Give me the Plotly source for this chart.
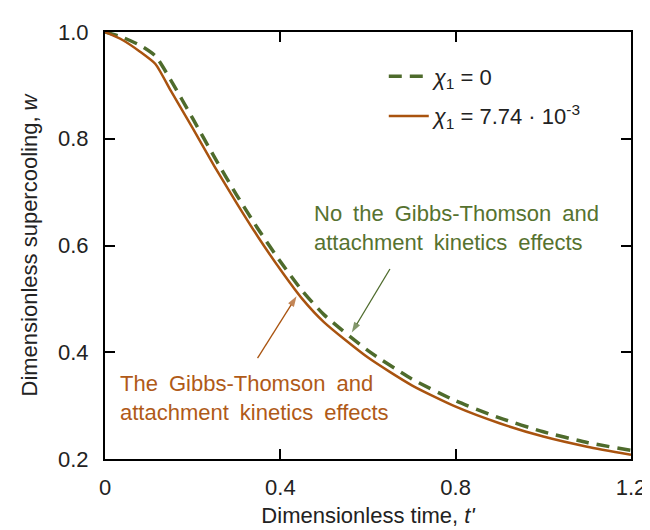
import plotly.graph_objects as go

# data
t = [0, 0.04, 0.08, 0.115, 0.15, 0.2, 0.25, 0.3, 0.35, 0.4, 0.45, 0.5, 0.6, 0.7, 0.8, 0.9, 1.0, 1.1, 1.2]
w_chi0 = [1.0, 0.99, 0.975, 0.955, 0.91, 0.838, 0.765, 0.695, 0.630, 0.570, 0.515, 0.470, 0.403, 0.350, 0.309, 0.277, 0.251, 0.231, 0.216]
w_chi1 = [1.0, 0.985, 0.963, 0.940, 0.890, 0.820, 0.748, 0.680, 0.615, 0.555, 0.500, 0.456, 0.390, 0.338, 0.298, 0.267, 0.242, 0.223, 0.208]
x_ticks = [0, 0.4, 0.8, 1.2]
x_ticklabels = ["0", "0.4", "0.8", "1.2"]
y_ticks = [0.2, 0.4, 0.6, 0.8, 1.0]
y_ticklabels = ["0.2", "0.4", "0.6", "0.8", "1.0"]
# arrow pointers (tail -> tip)
arrow_green_t = [0.650, 0.563]
arrow_green_w = [0.556, 0.437]
arrow_orange_t = [0.348, 0.437]
arrow_orange_w = [0.389, 0.505]

GREEN = "#4e6b2c"
ORANGE = "#a9530f"
GREEN_TXT = "#56722f"
ORANGE_TXT = "#b05a18"
FONT = "Liberation Sans, Arial, sans-serif"
FS = 22
SP = "\u2002"

fig = go.Figure()
fig.add_trace(go.Scatter(x=t, y=w_chi0, mode="lines", name="<i>χ</i><sub>1</sub> = 0",
                         line=dict(color=GREEN, width=3.5, dash="13px,8px", shape="spline", smoothing=0.6),
                         legendgroup="a"))
fig.add_trace(go.Scatter(x=t, y=w_chi1, mode="lines", name="<i>χ</i><sub>1</sub> = 7.74 · 10<sup>-3</sup>",
                         line=dict(color=ORANGE, width=2.5, shape="spline", smoothing=0.6), legendgroup="b"))
for ax_, ay_, col in [(arrow_green_t, arrow_green_w, GREEN), (arrow_orange_t, arrow_orange_w, ORANGE)]:
    fig.add_trace(go.Scatter(x=ax_, y=ay_, mode="lines+markers", showlegend=False, hoverinfo="skip",
                             line=dict(color=col, width=1.3),
                             marker=dict(symbol=["circle", "arrow"], size=[0, 11], color=col,
                                         angleref="previous", line=dict(width=0))))

axis_common = dict(showline=True, linecolor="black", linewidth=2, mirror="ticks",
                   ticks="inside", ticklen=10, tickwidth=1.5, tickcolor="black",
                   showgrid=False, zeroline=False, ticklabeloverflow="allow",
                   tickfont=dict(size=FS, color="#222", family=FONT))

fig.update_xaxes(range=[0, 1.2], tickvals=x_ticks, ticktext=x_ticklabels, ticklabelstandoff=8,
                 title=dict(text="Dimensionless time, <i>t'</i>", font=dict(size=FS, color="#222", family=FONT), standoff=8),
                 **axis_common)
fig.update_yaxes(range=[0.2, 1.0], tickvals=y_ticks, ticktext=y_ticklabels, ticklabelstandoff=10,
                 title=dict(text="Dimensionless supercooling, <i>w</i>", font=dict(size=FS, color="#222", family=FONT), standoff=14),
                 **axis_common)

# text annotations
green_text = SP.join(["No", "the", "Gibbs-Thomson", "and"]) + "<br>" + SP.join(["attachment", "kinetics", "effects"])
orange_text = SP.join(["The", "Gibbs-Thomson", "and"]) + "<br>" + SP.join(["attachment", "kinetics", "effects"])
fig.add_annotation(x=0.473, y=0.633, xref="x", yref="y", xanchor="left", yanchor="middle",
                   text=green_text, showarrow=False,
                   align="left", font=dict(size=FS, color=GREEN_TXT, family=FONT))
fig.add_annotation(x=0.029, y=0.314, xref="x", yref="y", xanchor="left", yanchor="middle",
                   text=orange_text, showarrow=False,
                   align="left", font=dict(size=FS, color=ORANGE_TXT, family=FONT))

fig.update_layout(
    width=650, height=530,
    margin=dict(l=97, r=18, t=15, b=79),
    plot_bgcolor="white", paper_bgcolor="white",
    font=dict(family=FONT, size=FS, color="#222"),
    legend=dict(x=0.53, y=0.945, xanchor="left", yanchor="top", bgcolor="rgba(0,0,0,0)",
                font=dict(size=FS, color="#222", family=FONT), itemwidth=40,
                tracegroupgap=8, traceorder="grouped"),
)

fig.write_html("out.html")
